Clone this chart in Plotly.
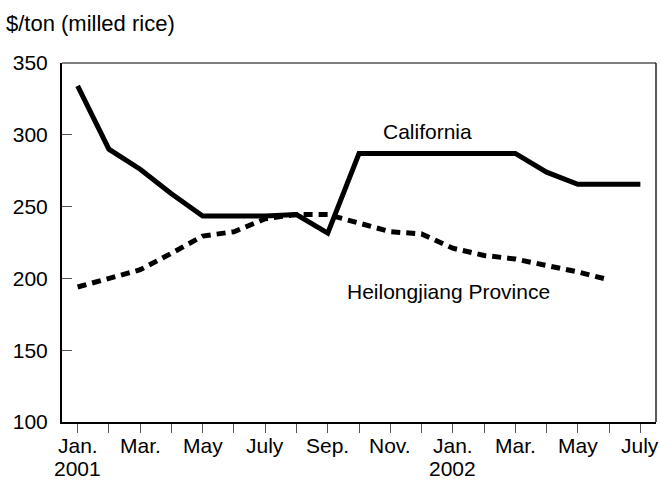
import plotly.graph_objects as go

months = ["Jan.", "Feb.", "Mar.", "Apr.", "May", "June", "July", "Aug.", "Sep.", "Oct.",
          "Nov.", "Dec.", "Jan.", "Feb.", "Mar.", "Apr.", "May", "June", "July"]
years = ["2001", "", "", "", "", "", "", "", "", "", "", "", "2002", "", "", "", "", "", ""]

california = [334, 290, 276, 259, 243.5, 243.5, 243.5, 244.5, 231.5, 287, 287, 287, 287, 287, 287,
              274, 265.5, 265.5, 265.5]
heilongjiang = [194, 200, 206, 217.5, 229.5, 232.5, 241.5, 244.5, 244.5, 238.5, 232.5, 231, 221,
                216, 213.5, 209, 204.5, 199, None]

y_ticks = [100, 150, 200, 250, 300, 350]

x = list(range(len(months)))

FONT = "Liberation Sans, Arial, sans-serif"
FS = 21

fig = go.Figure()
fig.add_trace(go.Scatter(x=x, y=california, mode="lines", name="California",
                         line=dict(color="black", width=5)))
fig.add_trace(go.Scatter(x=x, y=heilongjiang, mode="lines", name="Heilongjiang Province",
                         line=dict(color="black", width=5, dash="9px,6px")))

fig.add_annotation(x=11.19, y=302, text="California", showarrow=False,
                   font=dict(family=FONT, size=FS, color="black"))
fig.add_annotation(x=11.86, y=191, text="Heilongjiang Province", showarrow=False,
                   font=dict(family=FONT, size=FS, color="black"))
fig.add_annotation(x=0, y=1, xref="paper", yref="paper", xshift=-58, yshift=40,
                   xanchor="left", yanchor="middle", text="$/ton (milled rice)",
                   showarrow=False, font=dict(family=FONT, size=22, color="black"))

# month labels (every second month) and year labels under the ticks
for i, m in enumerate(months):
    if i % 2 == 0:
        fig.add_annotation(x=x[i], y=0, xref="x", yref="paper", yshift=-23,
                           xanchor="center", yanchor="middle", text=m, showarrow=False,
                           font=dict(family=FONT, size=FS, color="black"))
for i, yr in enumerate(years):
    if yr:
        fig.add_annotation(x=x[i], y=0, xref="x", yref="paper", yshift=-46,
                           xanchor="center", yanchor="middle", text=yr, showarrow=False,
                           font=dict(family=FONT, size=FS, color="black"))

# thin top and right frame lines
fig.add_shape(type="line", xref="paper", yref="paper", x0=0, x1=1, y0=1, y1=1,
              line=dict(color="black", width=1))
fig.add_shape(type="line", xref="paper", yref="paper", x0=1, x1=1, y0=0, y1=1,
              line=dict(color="black", width=1.3))

fig.update_layout(
    width=660, height=480,
    margin=dict(l=62, r=4, t=63, b=58),
    paper_bgcolor="white", plot_bgcolor="white",
    showlegend=False,
    font=dict(family=FONT, size=FS, color="black"),
    xaxis=dict(range=[-0.5, 18.5], tickmode="array", tickvals=x, showticklabels=False,
               ticks="outside", ticklen=9, tickcolor="#555", tickwidth=1,
               showline=True, linecolor="black", linewidth=2, showgrid=False,
               zeroline=False, automargin=False),
    yaxis=dict(range=[100, 350], tickmode="array", tickvals=y_ticks,
               ticks="inside", ticklen=10, tickcolor="#555", tickwidth=1,
               showline=True, linecolor="black", linewidth=2, showgrid=False,
               zeroline=False, automargin=False, ticklabelstandoff=8,
               tickfont=dict(family=FONT, size=FS, color="black")),
)

fig.write_html("out.html", config={"displayModeBar": False},
               post_script="document.body.style.margin='0';document.body.style.overflow='hidden';")
